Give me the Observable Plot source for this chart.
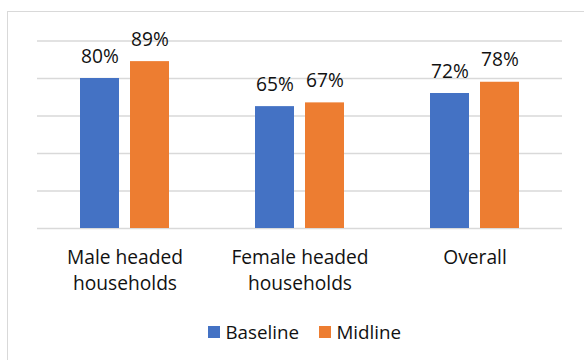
<!DOCTYPE html>
<html>
<head>
<meta charset="utf-8">
<script src="https://cdn.jsdelivr.net/npm/d3@7"></script>
<script src="https://cdn.jsdelivr.net/npm/@observablehq/plot@0.6"></script>
<style>
  html, body { margin: 0; padding: 0; background: #fff; }
  #wrap { position: relative; width: 584px; height: 360px; overflow: hidden; background: #fff; font-family: "Open Sans", sans-serif; }
  #frame { position: absolute; left: 7px; top: 11px; width: 640px; height: 420px; border: 1.3px solid #d9d9d9; box-sizing: border-box; }
  #chart { position: absolute; left: 0; top: 0; }
  #legend { position: absolute; left: 208px; top: 322.5px; display: flex; align-items: center; font-size: 18.8px; line-height: 1; color: #111; white-space: nowrap; }
  #legend .sw { width: 11.7px; height: 11.7px; display: inline-block; margin-right: 5.7px; }
  #legend .item { display: flex; align-items: center; margin-right: 20px; }
</style>
</head>
<body>
<div id="wrap">
  <div id="frame"></div>
  <div id="chart"></div>
  <div id="legend"></div>
</div>
<script>
// Household groups and their wrapped axis labels
const groups = ["Male headed households", "Female headed households", "Overall"];
const groupLabels = ["Male headed\nhouseholds", "Female headed\nhouseholds", "Overall"];

// Survey rounds and their share (%) per group
const seriesNames = ["Baseline", "Midline"];
const baselineValues = [80, 65, 72];
const midlineValues = [89, 67, 78];
const seriesColors = ["#4472C4", "#ED7D31"];

// Horizontal gridlines (percent)
const gridTicks = [0, 20, 40, 60, 80, 100];

const rows = groups.flatMap((g, i) => [
  {group: g, series: seriesNames[0], value: baselineValues[i]},
  {group: g, series: seriesNames[1], value: midlineValues[i]}
]);

const textColor = "#111";
const fs = 19.2;

const chart = Plot.plot({
  width: 584,
  height: 300,
  marginTop: 40.5,
  marginBottom: 72,
  marginLeft: 36,
  marginRight: 22,
  style: {fontFamily: "'Open Sans', sans-serif", background: "transparent", overflow: "visible"},
  fx: {domain: groups, padding: 0, axis: null},
  x: {domain: seriesNames, paddingInner: 0.219, paddingOuter: 0.852, axis: null},
  y: {domain: [0, 100], axis: null},
  color: {domain: seriesNames, range: seriesColors},
  marks: [
    Plot.ruleY(gridTicks, {stroke: "#d9d9d9", strokeWidth: 1.3}),
    Plot.barY(rows, {fx: "group", x: "series", y: "value", fill: "series"}),
    Plot.text(rows, {
      fx: "group", x: "series", y: "value",
      text: d => `${d.value}%`,
      lineAnchor: "bottom", dy: -16,
      fontSize: fs, fill: textColor
    }),
    Plot.text(groups, {
      fx: d => d,
      frameAnchor: "bottom",
      text: (d, i) => groupLabels[i],
      lineAnchor: "top", lineHeight: 1.35, dy: 16.9,
      fontSize: fs, fill: textColor
    })
  ]
});
document.getElementById("chart").appendChild(chart);

// Legend built from the same series names and colours
const legend = document.getElementById("legend");
seriesNames.forEach((name, i) => {
  const item = document.createElement("span");
  item.className = "item";
  const sw = document.createElement("span");
  sw.className = "sw";
  sw.style.background = seriesColors[i];
  item.appendChild(sw);
  item.appendChild(document.createTextNode(name));
  legend.appendChild(item);
});
</script>
</body>
</html>
